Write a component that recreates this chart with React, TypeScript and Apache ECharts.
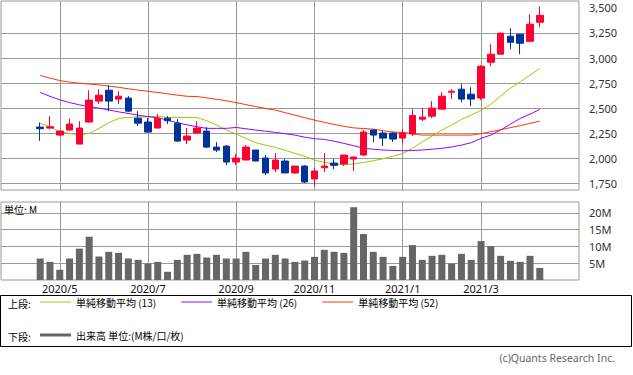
import React, { useEffect, useRef } from 'react';
import * as echarts from 'echarts';

// Weekly categories (Monday of each week)
const weeks = [
  '2020/4/20', '2020/4/27', '2020/5/4', '2020/5/11', '2020/5/18', '2020/5/25',
  '2020/6/1', '2020/6/8', '2020/6/15', '2020/6/22', '2020/6/29',
  '2020/7/6', '2020/7/13', '2020/7/20', '2020/7/27',
  '2020/8/3', '2020/8/10', '2020/8/17', '2020/8/24', '2020/8/31',
  '2020/9/7', '2020/9/14', '2020/9/21', '2020/9/28',
  '2020/10/5', '2020/10/12', '2020/10/19', '2020/10/26',
  '2020/11/2', '2020/11/9', '2020/11/16', '2020/11/23', '2020/11/30',
  '2020/12/7', '2020/12/14', '2020/12/21', '2020/12/28',
  '2021/1/4', '2021/1/11', '2021/1/18', '2021/1/25',
  '2021/2/1', '2021/2/8', '2021/2/15', '2021/2/22',
  '2021/3/1', '2021/3/8', '2021/3/15', '2021/3/22', '2021/3/29',
  '2021/4/5', '2021/4/12',
];
const padBefore = ['2020/3/23', '2020/3/30', '2020/4/6', '2020/4/13'];
const padAfter = ['2021/4/19', '2021/4/26', '2021/5/3', '2021/5/10'];
const monthStarts = ['2020/5/4', '2020/7/6', '2020/9/7', '2020/11/2', '2021/1/4', '2021/3/1'];

const openP = [
  2311, 2301, 2231, 2281, 2141, 2361, 2570, 2679, 2590, 2600,
  2400, 2361, 2301, 2400, 2350, 2181, 2251, 2271, 2111, 2121,
  1962, 1982, 2082, 2002, 1892, 1972, 1853, 1922, 1793, 1905,
  1952, 1942, 1992, 2032, 2281, 2251, 2251, 2201, 2241, 2390,
  2420, 2490, 2659, 2689, 2639, 2600, 2958, 3038, 3217, 3237,
  3167, 3357,
];
const closeP = [
  2294, 2314, 2271, 2341, 2301, 2580, 2629, 2570, 2619, 2470,
  2350, 2261, 2400, 2374, 2171, 2221, 2301, 2111, 2081, 1962,
  2002, 2111, 1972, 1853, 1982, 1853, 1922, 1763, 1873, 1922,
  1929, 2032, 2012, 2261, 2231, 2201, 2191, 2251, 2426, 2410,
  2500, 2619, 2669, 2590, 2590, 2918, 3038, 3247, 3157, 3147,
  3337, 3426,
];
const lowP = [
  2174, 2288, 2225, 2275, 2141, 2354, 2540, 2470, 2540, 2460,
  2321, 2261, 2301, 2341, 2161, 2141, 2251, 2101, 2061, 1932,
  1932, 1982, 1972, 1833, 1863, 1853, 1843, 1753, 1723, 1863,
  1892, 1922, 1873, 2022, 2161, 2121, 2161, 2151, 2221, 2370,
  2400, 2490, 2590, 2560, 2520, 2580, 2918, 3038, 3088, 3038,
  3157, 3307,
];
const highP = [
  2357, 2420, 2275, 2396, 2370, 2679, 2689, 2729, 2669, 2619,
  2470, 2400, 2440, 2420, 2390, 2301, 2370, 2311, 2161, 2131,
  2042, 2131, 2082, 2032, 2052, 1992, 1922, 1932, 1902, 2052,
  1992, 2032, 2012, 2281, 2291, 2271, 2261, 2291, 2490, 2500,
  2570, 2659, 2689, 2739, 2709, 2928, 3137, 3257, 3297, 3237,
  3436, 3516,
];
const volumeM = [
  6.4, 5.4, 3.05, 6.4, 9.35, 12.9, 7.0, 8.4, 8.1, 6.4,
  6.0, 4.9, 5.4, 2.45, 6.0, 7.5, 7.8, 6.7, 7.5, 6.4,
  6.4, 8.4, 4.5, 6.4, 7.5, 6.4, 5.4, 5.8, 6.9, 9.0,
  8.4, 8.1, 21.7, 13.7, 8.4, 6.9, 4.2, 6.9, 10.4, 6.0,
  7.2, 7.5, 4.9, 7.8, 6.0, 11.6, 10.1, 7.2, 5.7, 5.4,
  7.2, 3.6,
];
const ma13 = [
  2348, 2314, 2264, 2248, 2231, 2248, 2298, 2354, 2397, 2407,
  2413, 2413, 2420, 2407, 2407, 2407, 2407, 2374, 2330, 2281,
  2241, 2198, 2155, 2131, 2108, 2080, 2049, 2020, 1980, 1960,
  1942, 1939, 1942, 1958, 1975, 1995, 2020, 2048, 2099, 2164,
  2221, 2281, 2330, 2387, 2430, 2480, 2540, 2620, 2700, 2762,
  2829, 2895,
];
const ma26 = [
  2656, 2618, 2583, 2555, 2533, 2515, 2500, 2482, 2463, 2447,
  2430, 2415, 2403, 2380, 2354, 2333, 2314, 2298, 2298, 2298,
  2307, 2294, 2281, 2270, 2258, 2245, 2231, 2210, 2195, 2188,
  2170, 2148, 2125, 2100, 2090, 2082, 2078, 2075, 2077, 2082,
  2090, 2099, 2112, 2131, 2155, 2198, 2231, 2281, 2340, 2397,
  2440, 2487,
];
const ma52 = [
  2826, 2800, 2775, 2760, 2748, 2740, 2732, 2720, 2708, 2693,
  2680, 2668, 2656, 2643, 2630, 2618, 2616, 2602, 2588, 2573,
  2555, 2535, 2515, 2497, 2480, 2455, 2430, 2405, 2380, 2358,
  2338, 2318, 2303, 2296, 2290, 2275, 2262, 2258, 2245, 2231,
  2231, 2231, 2231, 2231, 2231, 2245, 2264, 2285, 2305, 2325,
  2348, 2370,
];

const priceLabelTicks = [1750, 2000, 2250, 2500, 2750, 3000, 3250, 3500];
const priceGridTicks = [1750, 2000, 2250, 2500, 2750, 3000, 3250];
const volTicks = [5, 10, 15, 20];

const NAME13 = '単純移動平均 (13)';
const NAME26 = '単純移動平均 (26)';
const NAME52 = '単純移動平均 (52)';
const NAMEVOL = '出来高 単位:(M株/口/枚)';

const GRID_C = '#999999';
const CJK = '"Noto Sans CJK JP", "Noto Sans", sans-serif';
const NUM = '"Noto Sans", "DejaVu Sans", sans-serif';

export default function App() {
  const ref = useRef<HTMLDivElement>(null);
  useEffect(() => {
    const chart = echarts.init(ref.current!, null, { renderer: 'svg' });
    const cats = [...padBefore, ...weeks, ...padAfter];
    const off = padBefore.length;
    const isMonth = (_i: number, v: string) => monthStarts.includes(v);
    const monthFmt = (v: string) => v.split('/').slice(0, 2).join('/');
    const pair = (arr: number[]) => arr.map((v, i) => [i + off, v]);

    const xBase = {
      type: 'category',
      data: cats,
      boundaryGap: false,
      axisLine: { show: false },
      axisTick: { show: false },
      splitLine: { show: true, interval: isMonth, lineStyle: { color: GRID_C, width: 1 } },
    };

    const option: any = {
      animation: false,
      backgroundColor: '#ffffff',
      grid: [
        { left: 1, right: 54, top: 1, height: 189, show: true, borderColor: GRID_C, borderWidth: 1, backgroundColor: 'transparent' },
        { left: 1, right: 54, top: 202, height: 78, show: true, borderColor: GRID_C, borderWidth: 1, backgroundColor: 'transparent' },
      ],
      xAxis: [
        { ...xBase, gridIndex: 0, axisLabel: { show: false } },
        {
          ...xBase,
          gridIndex: 1,
          axisLabel: {
            show: true,
            interval: isMonth,
            formatter: monthFmt,
            margin: 3,
            fontSize: 11,
            color: '#111',
            fontFamily: NUM,
          },
        },
      ],
      yAxis: [
        {
          type: 'value',
          gridIndex: 0,
          position: 'right',
          min: 1683,
          max: 3569,
          axisLine: { show: false },
          axisTick: { show: false, customValues: priceGridTicks },
          splitLine: { show: true, lineStyle: { color: GRID_C, width: 1 } },
          axisLabel: {
            customValues: priceLabelTicks,
            formatter: (v: number) => v.toLocaleString('en-US'),
            margin: 10,
            fontSize: 11,
            color: '#333',
            fontFamily: NUM,
          },
        },
        {
          type: 'value',
          gridIndex: 1,
          position: 'right',
          min: 0,
          max: 23.25,
          axisLine: { show: false },
          axisTick: { show: false, customValues: volTicks },
          splitLine: { show: true, lineStyle: { color: GRID_C, width: 1 } },
          axisLabel: {
            customValues: volTicks,
            formatter: (v: number) => v + 'M',
            margin: 10,
            fontSize: 11,
            color: '#333',
            fontFamily: NUM,
          },
        },
      ],
      legend: [
        {
          data: [NAME13, NAME26, NAME52],
          left: 40,
          top: 297,
          padding: 0,
          orient: 'horizontal',
          icon: 'rect',
          itemWidth: 31,
          itemHeight: 1,
          itemGap: 25,
          selectedMode: false,
          textStyle: { fontSize: 10, color: '#000', fontFamily: CJK },
        },
        {
          data: [NAMEVOL],
          left: 40,
          top: 330,
          padding: 0,
          icon: 'rect',
          itemWidth: 31,
          itemHeight: 3,
          selectedMode: false,
          textStyle: { fontSize: 10, color: '#000', fontFamily: CJK },
        },
      ],
      graphic: [
        { type: 'rect', shape: { x: 0.5, y: 295.5, width: 631, height: 51 }, style: { fill: 'none', stroke: '#000', lineWidth: 1 }, silent: true },
        { type: 'text', x: 8, y: 303, style: { text: '上段:', font: `10px ${CJK}`, fill: '#000', textVerticalAlign: 'middle' } },
        { type: 'text', x: 8, y: 336, style: { text: '下段:', font: `10px ${CJK}`, fill: '#000', textVerticalAlign: 'middle' } },
        { type: 'text', x: 4, y: 209, style: { text: '単位: M', font: `10px ${CJK}`, fill: '#000', textVerticalAlign: 'middle' } },
        { type: 'text', x: 615, y: 358, style: { text: '(c)Quants Research Inc.', font: `10.5px ${NUM}`, fill: '#666', textAlign: 'right', textVerticalAlign: 'middle' } },
      ],
      series: [
        { name: NAME13, type: 'line', xAxisIndex: 0, yAxisIndex: 0, data: pair(ma13), symbol: 'none', color: '#99cc00', lineStyle: { color: '#99cc00', width: 1 }, z: 2 },
        { name: NAME26, type: 'line', xAxisIndex: 0, yAxisIndex: 0, data: pair(ma26), symbol: 'none', color: '#9900ff', lineStyle: { color: '#9900ff', width: 1 }, z: 2 },
        { name: NAME52, type: 'line', xAxisIndex: 0, yAxisIndex: 0, data: pair(ma52), symbol: 'none', color: '#ff3300', lineStyle: { color: '#ff3300', width: 1 }, z: 2 },
        {
          name: 'price',
          type: 'candlestick',
          xAxisIndex: 0,
          yAxisIndex: 0,
          barWidth: 7,
          encode: { x: 0, y: [1, 2, 3, 4] },
          data: openP.map((o, i) => [i + off, o, closeP[i], lowP[i], highP[i]]),
          itemStyle: { color: '#ff0033', color0: '#003399', borderColor: '#ff0033', borderColor0: '#003399', borderWidth: 1 },
          z: 3,
        },
        {
          name: NAMEVOL,
          type: 'bar',
          xAxisIndex: 1,
          yAxisIndex: 1,
          barWidth: 7,
          data: pair(volumeM),
          color: '#666666',
          itemStyle: { color: '#666666' },
        },
      ],
    };
    chart.setOption(option);
    return () => chart.dispose();
  }, []);
  return <div ref={ref} style={{ position: 'absolute', left: 0, top: 0, width: 633, height: 375, background: '#fff' }} />;
}
